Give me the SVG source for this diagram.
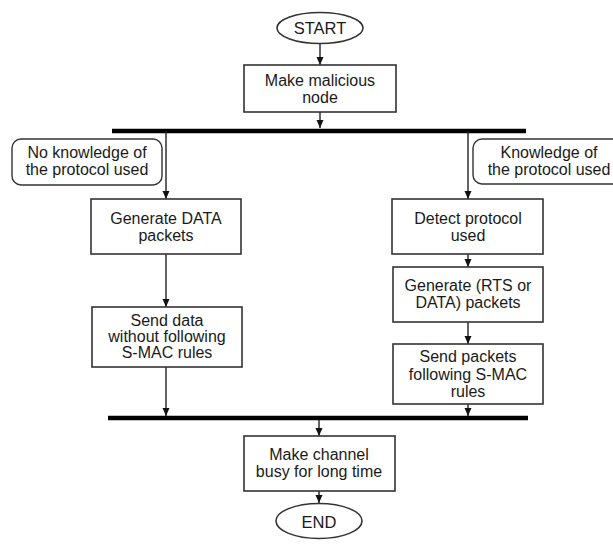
<svg xmlns="http://www.w3.org/2000/svg" width="613" height="545" viewBox="0 0 613 545">
<style>
  .box{fill:#fff;stroke:#333;stroke-width:1.6}
  .note{fill:#fff;stroke:#333;stroke-width:1.4}
  .t{font-family:"Liberation Sans",Arial,sans-serif;font-size:16px;fill:#1a1a1a;text-anchor:middle}
  .ln{stroke:#222;stroke-width:1.4;fill:none}
  .bar{stroke:#000;stroke-width:4.5}
</style>
<defs>
  <marker id="ah" viewBox="0 0 8 10" refX="8" refY="5" markerWidth="8" markerHeight="10" markerUnits="userSpaceOnUse" orient="auto">
    <path d="M0,1.5 L8,5 L0,8.5 Z" fill="#111"/>
  </marker>
</defs>
<rect width="613" height="545" fill="#fff"/>

<g id="connectors">
  <line class="ln" x1="320" y1="43" x2="320" y2="65" marker-end="url(#ah)"/>
  <line class="ln" x1="320" y1="112" x2="320" y2="128" marker-end="url(#ah)"/>
  <line class="bar" x1="112" y1="131" x2="526" y2="131"/>
  <line class="ln" x1="166" y1="131" x2="166" y2="199" marker-end="url(#ah)"/>
  <line class="ln" x1="468" y1="131" x2="468" y2="199" marker-end="url(#ah)"/>
  <line class="ln" x1="166" y1="254" x2="166" y2="307" marker-end="url(#ah)"/>
  <line class="ln" x1="166" y1="367" x2="166" y2="416" marker-end="url(#ah)"/>
  <line class="ln" x1="468" y1="254" x2="468" y2="267" marker-end="url(#ah)"/>
  <line class="ln" x1="468" y1="322" x2="468" y2="344" marker-end="url(#ah)"/>
  <line class="ln" x1="468" y1="404" x2="468" y2="416" marker-end="url(#ah)"/>
  <line class="bar" x1="108" y1="418" x2="528" y2="418"/>
  <line class="ln" x1="319" y1="420" x2="319" y2="436" marker-end="url(#ah)"/>
  <line class="ln" x1="319" y1="491" x2="319" y2="503" marker-end="url(#ah)"/>
</g>

<g id="start">
  <ellipse cx="320" cy="28" rx="43" ry="15.5" class="box"/>
  <text class="t" x="320" y="34" style="font-size:16.5px">START</text>
</g>

<g id="make-malicious">
  <rect class="box" x="244" y="65" width="152" height="47"/>
  <text class="t" x="320" y="86">Make malicious</text>
  <text class="t" x="320" y="103">node</text>
</g>

<g id="note-no-knowledge">
  <rect class="note" x="12" y="139" width="150" height="46" rx="9"/>
  <text class="t" x="87" y="158">No knowledge of</text>
  <text class="t" x="87" y="175">the protocol used</text>
</g>

<g id="note-knowledge">
  <rect class="note" x="473" y="139" width="150" height="45" rx="9"/>
  <text class="t" x="549" y="158">Knowledge of</text>
  <text class="t" x="549" y="175">the protocol used</text>
</g>

<g id="generate-data">
  <rect class="box" x="91" y="199" width="150" height="55"/>
  <text class="t" x="166" y="224">Generate DATA</text>
  <text class="t" x="166" y="241">packets</text>
</g>

<g id="send-data">
  <rect class="box" x="92" y="307" width="150" height="60"/>
  <text class="t" x="167" y="326">Send data</text>
  <text class="t" x="167" y="342">without following</text>
  <text class="t" x="167" y="358">S-MAC rules</text>
</g>

<g id="detect-protocol">
  <rect class="box" x="392" y="199" width="151" height="55"/>
  <text class="t" x="468" y="224">Detect protocol</text>
  <text class="t" x="468" y="241">used</text>
</g>

<g id="generate-rts">
  <rect class="box" x="393" y="267" width="150" height="55"/>
  <text class="t" x="468" y="291">Generate (RTS or</text>
  <text class="t" x="468" y="308">DATA) packets</text>
</g>

<g id="send-packets">
  <rect class="box" x="393" y="344" width="150" height="60"/>
  <text class="t" x="468" y="362">Send packets</text>
  <text class="t" x="468" y="380">following S-MAC</text>
  <text class="t" x="468" y="397">rules</text>
</g>

<g id="make-busy">
  <rect class="box" x="244" y="436" width="151" height="55"/>
  <text class="t" x="319" y="460">Make channel</text>
  <text class="t" x="319" y="477">busy for long time</text>
</g>

<g id="end">
  <ellipse cx="319" cy="521" rx="43" ry="17.5" class="box"/>
  <text class="t" x="319" y="528" style="font-size:16.5px">END</text>
</g>
</svg>
